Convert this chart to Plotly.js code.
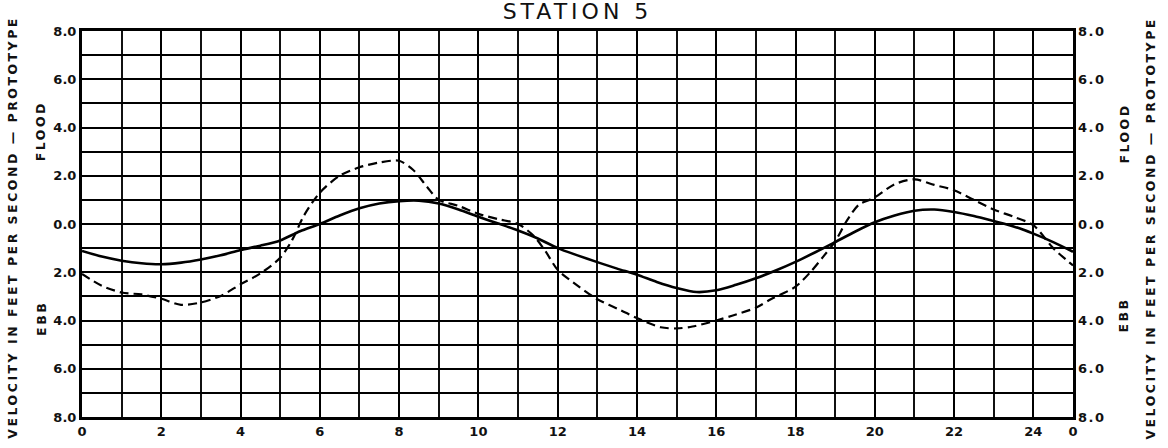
<!DOCTYPE html>
<html>
<head>
<meta charset="utf-8">
<script src="https://cdn.plot.ly/plotly-3.0.1.min.js"></script>
<style>
html,body{margin:0;padding:0;background:#fff;}
#chart{width:1168px;height:448px;}
</style>
</head>
<body>
<div id="chart"></div>
<script>
// Hours after start (tidal cycle) and velocities (ft/s; flood +, ebb -)
const solidHours = [0,0.5,1,1.5,2,2.5,3,3.5,4,4.5,5,5.5,6,6.5,7,7.5,8,8.5,9,9.5,10,10.5,11,11.5,12,12.5,13,13.5,14,14.5,15,15.5,16,16.5,17,17.5,18,18.5,19,19.5,20,20.5,21,21.5,22,22.5,23,23.5,24,24.5,25];
const solidVel = [-1.12,-1.35,-1.52,-1.63,-1.67,-1.6,-1.47,-1.3,-1.08,-0.9,-0.68,-0.3,0.0,0.35,0.65,0.85,0.95,0.97,0.85,0.6,0.3,0.02,-0.27,-0.6,-1.0,-1.3,-1.58,-1.85,-2.1,-2.4,-2.65,-2.82,-2.75,-2.52,-2.25,-1.93,-1.57,-1.17,-0.75,-0.32,0.07,0.35,0.55,0.6,0.5,0.33,0.12,-0.1,-0.4,-0.75,-1.15];

const dashHours = [0,0.5,1,1.5,2,2.5,3,3.5,4,4.5,5,5.3,5.6,6,6.5,7,7.5,8,8.35,8.7,9,9.5,10,10.5,11,11.4,11.7,12,12.5,13,13.6,14,14.6,15,15.4,16,16.4,17,17.4,18,18.4,18.7,19,19.3,19.6,20,20.5,21,21.5,22,22.5,23,23.5,24,24.5,25];
const dashVel = [-2.07,-2.56,-2.84,-2.92,-3.1,-3.35,-3.25,-2.98,-2.5,-2.05,-1.4,-0.67,0.35,1.3,2.0,2.35,2.55,2.62,2.25,1.55,1.0,0.75,0.42,0.2,0.0,-0.5,-1.15,-1.9,-2.55,-3.12,-3.58,-3.9,-4.28,-4.33,-4.25,-4.0,-3.8,-3.47,-3.1,-2.6,-1.95,-1.35,-0.72,0.15,0.8,1.1,1.65,1.85,1.62,1.4,1.0,0.6,0.3,-0.05,-1.0,-1.72];

const xTickVals = [0,2,4,6,8,10,12,14,16,18,20,22,24,25];
const xTickText = ['0','2','4','6','8','10','12','14','16','18','20','22','24','0'];
const yTickVals = [-8,-6,-4,-2,0,2,4,6,8];
const yTickText = ['8.0','6.0','4.0','2.0','0.0','2.0','4.0','6.0','8.0'];

const FONT = 'DejaVu Sans, sans-serif';
const AXFONT = {family: FONT, size: 13, color: '#111', weight: 'bold'};
const SIDEFONT = {family: FONT, size: 12.5, color: '#111', weight: 'bold'};

const traces = [
  {x: solidHours, y: solidVel, type: 'scatter', mode: 'lines',
   line: {color: '#000', width: 2.6, shape: 'spline', smoothing: 0.8},
   hoverinfo: 'skip', showlegend: false},
  {x: dashHours, y: dashVel, type: 'scatter', mode: 'lines',
   line: {color: '#000', width: 2.2, dash: '9px,5px', shape: 'spline', smoothing: 0.8},
   hoverinfo: 'skip', showlegend: false},
  // same solid series on the right-hand axis (invisible) so that axis is drawn
  {x: solidHours, y: solidVel, yaxis: 'y2', type: 'scatter', mode: 'lines',
   line: {color: 'rgba(0,0,0,0)', width: 0}, opacity: 0,
   hoverinfo: 'skip', showlegend: false}
];

function sideNote(text, x, y) {
  return {text: text, xref: 'paper', yref: 'paper', x: x, y: y, xanchor: 'center', yanchor: 'middle',
          textangle: -90, showarrow: false, font: SIDEFONT};
}

const layout = {
  width: 1168, height: 448,
  margin: {l: 82, r: 95, t: 31, b: 31, pad: 0},
  paper_bgcolor: '#fff', plot_bgcolor: '#fff',
  title: {text: 'STATION 5', x: 0.5, xref: 'paper', y: 0.975, yref: 'container', yanchor: 'middle',
          font: {family: FONT, size: 22, color: '#111'}},
  xaxis: {range: [0, 25], tickmode: 'array', tickvals: xTickVals, ticktext: xTickText,
          showgrid: true, gridcolor: '#000', gridwidth: 2,
          minor: {tickmode: 'linear', tick0: 0, dtick: 1, showgrid: true, gridcolor: '#111', gridwidth: 2},
          showline: true, mirror: true, linecolor: '#000', linewidth: 3,
          zeroline: false, ticks: '', tickfont: AXFONT, ticklabelstandoff: 0},
  yaxis: {range: [-8, 8], tickmode: 'array', tickvals: yTickVals, ticktext: yTickText,
          showgrid: true, gridcolor: '#000', gridwidth: 2,
          minor: {tickmode: 'linear', tick0: 0, dtick: 1, showgrid: true, gridcolor: '#000', gridwidth: 2},
          showline: true, mirror: true, linecolor: '#000', linewidth: 3,
          zeroline: false, ticks: '', tickfont: AXFONT, ticklabelstandoff: 0},
  yaxis2: {range: [-8, 8], overlaying: 'y', side: 'right', anchor: 'x',
           tickmode: 'array', tickvals: yTickVals, ticktext: yTickText,
           showgrid: false, zeroline: false, showline: false, ticks: '',
           tickfont: {family: FONT, size: 13, color: '#111', weight: 'bold'}, ticklabelstandoff: 4},
  annotations: [
    sideNote('VELOCITY IN FEET PER SECOND — PROTOTYPE', -0.0696, 0.49),
    sideNote('FLOOD', -0.0414, 0.741),
    sideNote('EBB', -0.0414, 0.256),
    sideNote('VELOCITY IN FEET PER SECOND — PROTOTYPE', 1.0787, 0.49),
    sideNote('FLOOD', 1.0515, 0.735),
    sideNote('EBB', 1.0515, 0.265)
  ]
};

Plotly.newPlot('chart', traces, layout, {staticPlot: true, displayModeBar: false}).then(function(gd){
  const t = gd.querySelector('.gtitle');
  if (t) t.style.letterSpacing = '4px';
  gd.querySelectorAll('.annotation-text').forEach(function(el){
    el.style.letterSpacing = '2.5px';
  });
  gd.querySelectorAll('.y2tick text').forEach(function(el){
    el.style.letterSpacing = '1.5px';
  });
});
</script>
</body>
</html>
